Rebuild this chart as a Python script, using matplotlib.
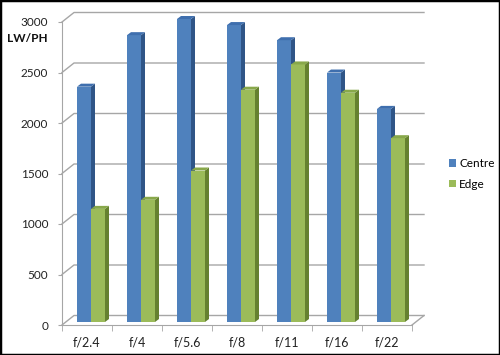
import matplotlib
matplotlib.use("Agg")
import matplotlib.pyplot as plt
from matplotlib.patches import Polygon, Rectangle
import numpy as np

categories = ["f/2.4", "f/4", "f/5.6", "f/8", "f/11", "f/16", "f/22"]
centre = [2330, 2840, 3000, 2940, 2790, 2470, 2110]
edge = [1120, 1210, 1500, 2300, 2550, 2270, 1820]
yticks = [0, 500, 1000, 1500, 2000, 2500, 3000]
series_names = ["Centre", "Edge"]

W, H = 500, 355
fig = plt.figure(figsize=(W / 100, H / 100), dpi=100)
fig.patch.set_facecolor("white")

# plot front plane: x px 62..412, y px 325..22
ax = fig.add_axes([62 / W, (H - 325) / H, 350 / W, 303 / H])
n = len(categories)
ax.set_xlim(-0.5, n - 0.5)
ax.set_ylim(0, 3000)
ax.patch.set_alpha(0)

pxx = n / 350.0
pxy = 3000 / 303.0
wall_dx, wall_dy = 12 * pxx, 9.5 * pxy
front_dx, front_dy = 4 * pxx, 3 * pxy
depth_dx, depth_dy = 4 * pxx, 3 * pxy

grid_c = "#a6a6a6"
for yv in yticks:
    ax.plot([-0.5, -0.5 + wall_dx, n - 0.5 + wall_dx],
            [yv, yv + wall_dy, yv + wall_dy], color=grid_c, lw=1.0,
            clip_on=False, zorder=1)
# floor right edge
ax.plot([n - 0.5, n - 0.5 + wall_dx], [0, wall_dy], color=grid_c, lw=1.0,
        clip_on=False, zorder=1)

bw = 0.28
x = np.arange(n)
cols = [("#4f81bd", "#2f5587", "#3f6fae"), ("#9bbb59", "#65812f", "#88a84a")]
for i in range(n):
    for s, vals in enumerate([centre, edge]):
        front, side, top = cols[s]
        left = x[i] - bw + s * bw + front_dx
        v = vals[i]
        z = 3 + i * 2 + s
        ax.bar(left, v, width=bw, bottom=front_dy, align="edge",
               color=front, edgecolor="none", zorder=z, clip_on=False,
               label=series_names[s] if i == 0 else None)
        r = left + bw
        ax.add_patch(Polygon([(r, front_dy), (r + depth_dx, front_dy + depth_dy),
                              (r + depth_dx, front_dy + v + depth_dy), (r, front_dy + v)],
                             closed=True, facecolor=side, edgecolor="none",
                             zorder=z, clip_on=False))
        ax.add_patch(Polygon([(left, front_dy + v), (r, front_dy + v),
                              (r + depth_dx, front_dy + v + depth_dy),
                              (left + depth_dx, front_dy + v + depth_dy)],
                             closed=True, facecolor=top, edgecolor="none",
                             zorder=z, clip_on=False))

for sp in ["top", "right"]:
    ax.spines[sp].set_visible(False)
ax.spines["left"].set_color(grid_c)
ax.spines["bottom"].set_color(grid_c)
ax.spines["left"].set_zorder(2)
ax.spines["bottom"].set_zorder(2)

font = "Lato"
ax.set_yticks(yticks)
ax.set_yticklabels([str(t) for t in yticks], fontsize=8.5, family=font, color="#222222")
ax.tick_params(axis="y", length=3, color=grid_c, pad=7)
ax.set_xticks(x)
ax.set_xticklabels(categories, fontsize=9, family=font, color="#222222")
ax.tick_params(axis="x", which="major", length=0, pad=8)
ax.set_xticks(np.arange(n + 1) - 0.5, minor=True)
ax.tick_params(axis="x", which="minor", length=4, color=grid_c)

fig.text(27 / W, 1 - 39 / H, "LW/PH", fontsize=8.5, fontweight="bold",
         family=font, ha="center", va="center", color="#111111")

handles, labels = ax.get_legend_handles_labels()
leg = fig.legend(handles, labels, loc="center left",
                 bbox_to_anchor=(449 / W, 1 - 174 / H), frameon=False,
                 prop={"family": font, "size": 8.5}, handlelength=0.6,
                 handleheight=0.6, handletextpad=0.25, labelspacing=0.8,
                 borderpad=0, borderaxespad=0)

fig.add_artist(Rectangle((0, 0), 1, 1, transform=fig.transFigure, fill=False,
                         edgecolor="black", lw=2.5, zorder=100))

fig.savefig("out.png", dpi=100, facecolor="white")
